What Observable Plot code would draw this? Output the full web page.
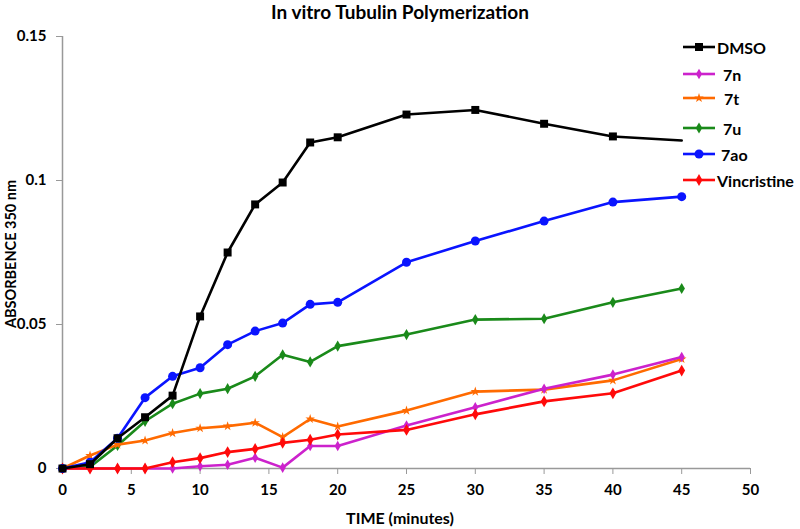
<!DOCTYPE html>
<html><head><meta charset="utf-8">
<script src="https://cdn.jsdelivr.net/npm/d3@7"></script>
<script src="https://cdn.jsdelivr.net/npm/@observablehq/plot@0.6"></script>
<style>
body{margin:0;background:#fff;font-family:Lato,"Open Sans",sans-serif;}
#wrap{position:relative;width:800px;height:529px;}
.lbl{position:absolute;font-weight:bold;color:#000;white-space:nowrap;}
#legend .it{position:absolute;left:683px;height:16px;display:flex;align-items:center;font-weight:bold;font-size:16px;}
</style></head>
<body>
<div id="wrap">
<div id="chart"></div>
<div class="lbl" style="left:0;width:800px;text-align:center;top:0px;font-size:19px;line-height:24px;">In vitro Tubulin Polymerization</div>
<div class="lbl" style="left:0;width:800px;text-align:center;top:508px;font-size:16px;line-height:20px;">TIME (minutes)</div>
<div class="lbl" style="left:11px;top:254px;font-size:14.5px;line-height:16px;transform:translate(-50%,-50%) rotate(-90deg);transform-origin:center;">ABSORBENCE 350 nm</div>
<div id="legend"></div>
</div>
<script>
const times = [0,2,4,6,8,10,12,14,16,18,20,25,30,35,40,45];
const seriesNames = ["DMSO","7n","7t","7u","7ao","Vincristine"];
const dmso = [0,0.0015,0.0105,0.0178,0.0253,0.0528,0.075,0.0917,0.0993,0.1132,0.115,0.1229,0.1245,0.1197,0.1153,0.1139];
const s7n = [0,0,0,0,0,0.0008,0.0013,0.0037,0.0003,0.0078,0.0078,0.0149,0.0213,0.0277,0.0326,0.0387];
const s7t = [0,0.0045,0.0083,0.0097,0.0123,0.014,0.0147,0.0159,0.0109,0.0172,0.0146,0.0201,0.0267,0.0274,0.0306,0.038];
const s7u = [0,0.0005,0.008,0.0164,0.0225,0.026,0.0277,0.032,0.0395,0.037,0.0425,0.0465,0.0517,0.052,0.0577,0.0625];
const s7ao = [0,0.0022,0.0105,0.0246,0.032,0.035,0.043,0.0477,0.0505,0.057,0.0577,0.0716,0.079,0.0859,0.0925,0.0944];
const vincristine = [0,0,0,0,0.0022,0.0036,0.0057,0.0068,0.0089,0.01,0.0118,0.0134,0.0188,0.0233,0.0261,0.034];
const xTicks = [0,5,10,15,20,25,30,35,40,45,50];
const yTicks = [0,0.05,0.1,0.15];

const values = {"DMSO":dmso,"7n":s7n,"7t":s7t,"7u":s7u,"7ao":s7ao,"Vincristine":vincristine};
const colors = {"DMSO":"#000000","7n":"#cc22cc","7t":"#ff6a00","7u":"#1a8a1a","7ao":"#0a14ff","Vincristine":"#ff0a0a"};
const symbols = {"DMSO":"square","7n":"diamond","7t":"star","7u":"diamond","7ao":"circle","Vincristine":"diamond"};
const radii = {"DMSO":4.5,"7n":3.2,"7t":3,"7u":3.4,"7ao":4.5,"Vincristine":3.6};
const drawOrder = ["7u","7t","7n","Vincristine","7ao","DMSO"];

const marks = [
  Plot.ruleY([0], {stroke:"#999", strokeWidth:1.5}),
  Plot.ruleX([0], {y1:0, y2:0.15, stroke:"#999", strokeWidth:1.5}),
  Plot.axisX({ticks:xTicks, tickSize:6, tickPadding:10, stroke:"#999", fill:"#000", fontSize:15, fontWeight:"bold", tickFormat:d=>String(d)}),
  Plot.axisY({ticks:yTicks, tickSize:6, tickPadding:10, stroke:"#999", fill:"#000", fontSize:15, fontWeight:"bold", tickFormat:d=>String(d)})
];
for (const s of drawOrder) {
  const rows = times.map((t,i)=>({t, v: values[s][i]}));
  marks.push(Plot.line(rows, {x:"t", y:"v", stroke:colors[s], strokeWidth:2.6}));
  const dotRows = s === "DMSO" ? rows.slice(0, rows.length-1) : rows;
  marks.push(Plot.dot(dotRows, {x:"t", y:"v", fill:colors[s], stroke:"none", symbol:symbols[s], r:radii[s]}));
}

const chart = Plot.plot({
  width:800, height:529,
  marginLeft:62, marginRight:50, marginTop:36, marginBottom:61,
  x:{domain:[0,50], label:null},
  y:{domain:[0,0.15], label:null},
  style:{fontFamily:"Lato, 'Open Sans', sans-serif", background:"white"},
  marks
});
document.getElementById("chart").appendChild(chart);

// legend
const legendTops = {"DMSO":47,"7n":74,"7t":98,"7u":128,"7ao":154,"Vincristine":180};
const textOffsets = {"DMSO":2,"7n":8,"7t":9,"7u":8,"7ao":6,"Vincristine":2};
const legend = document.getElementById("legend");
for (const s of seriesNames) {
  const it = document.createElement("div");
  it.className = "it";
  it.style.top = (legendTops[s]-8)+"px";
  const sym = d3.symbol().type({square:d3.symbolSquare, diamond:d3.symbolDiamond, star:d3.symbolStar, circle:d3.symbolCircle}[symbols[s]]).size(Math.PI*radii[s]*radii[s])();
  it.innerHTML = `<svg width="32" height="16" style="overflow:visible"><line x1="0" x2="32" y1="8" y2="8" stroke="${colors[s]}" stroke-width="2.6"/><path d="${sym}" transform="translate(16,8)" fill="${colors[s]}"/></svg><span style="margin-left:${textOffsets[s]}px">${s}</span>`;
  legend.appendChild(it);
}
</script>
</body></html>
